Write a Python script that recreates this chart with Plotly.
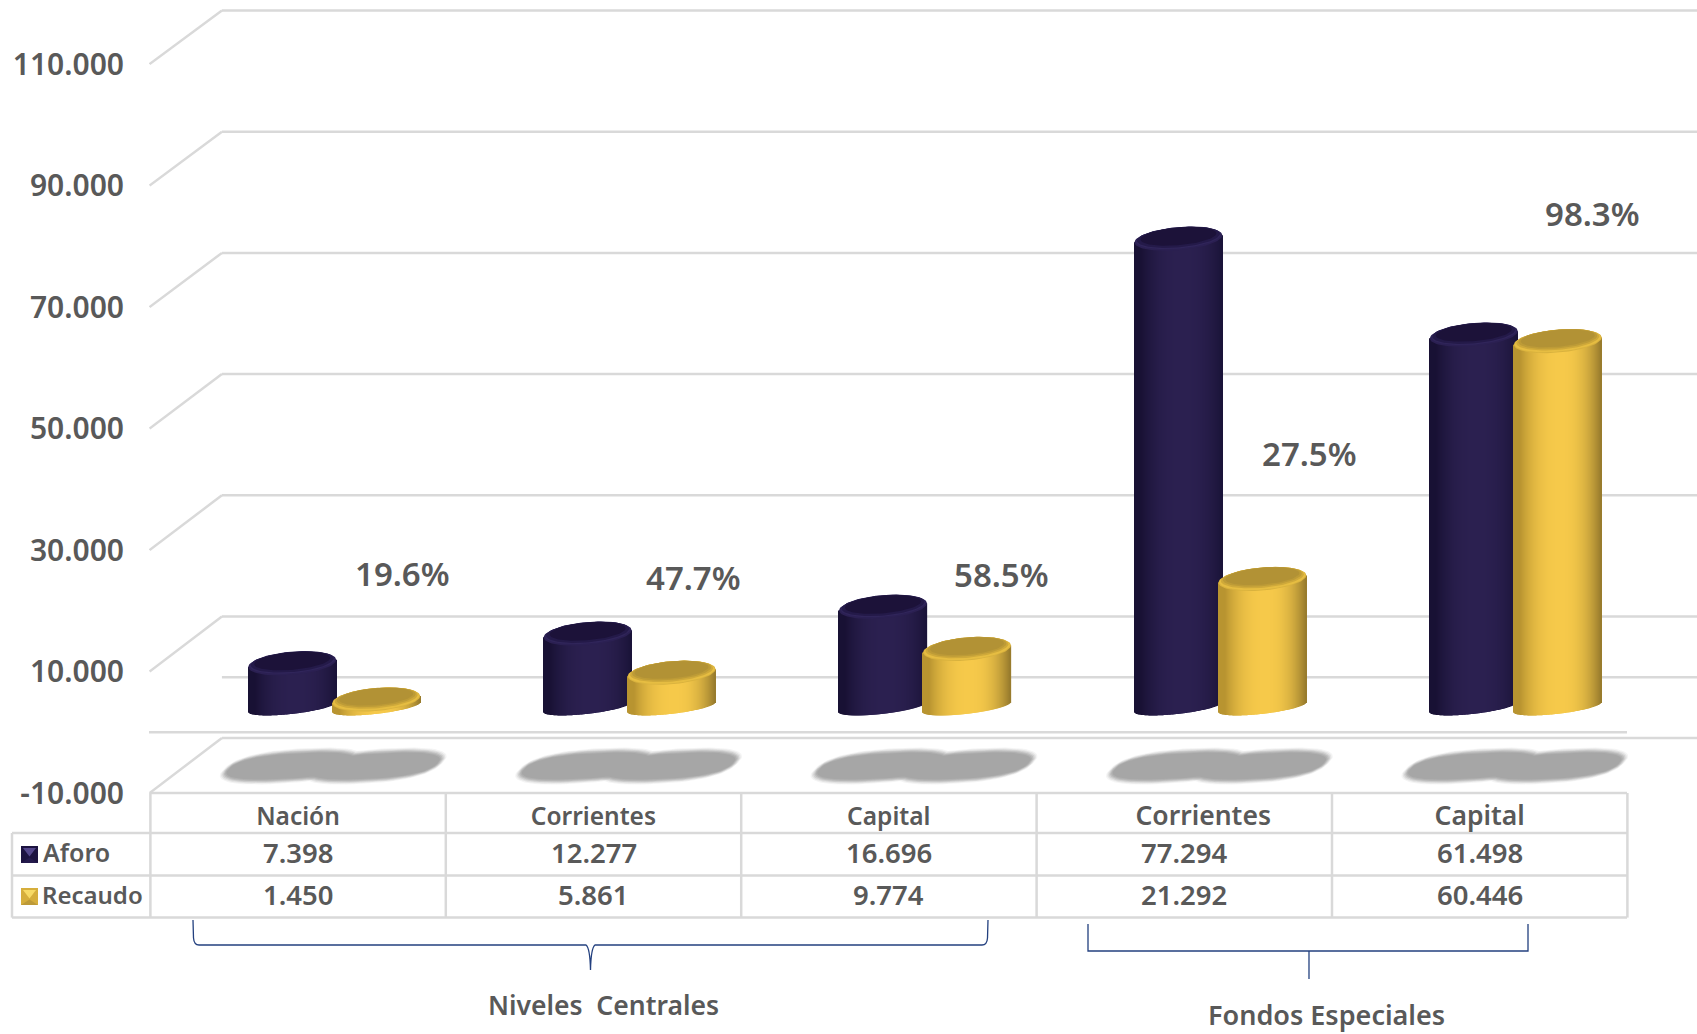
import math
import plotly.graph_objects as go

categories = ["Nación", "Corrientes", "Capital", "Corrientes", "Capital"]
aforo = [7398, 12277, 16696, 77294, 61498]
recaudo = [1450, 5861, 9774, 21292, 60446]
percent = ["19.6%", "47.7%", "58.5%", "27.5%", "98.3%"]
y_ticks = [-10000, 10000, 30000, 50000, 70000, 90000, 110000]
y_labels = ["-10.000", "10.000", "30.000", "50.000", "70.000", "90.000", "110.000"]
groups = ["Niveles  Centrales", "Fondos Especiales"]

W, H = 1697, 1034
PL, PB = 149, 793                # plot area left and bottom, px
CELL = 295.4                     # px per category
X0 = 298.0                       # px of category 0 centre
PPV = 60.75 / 10000              # px per value unit
DEPTH_Y = 55 / PPV               # back wall shift in value units
DEPTH_X = 73 / CELL
GRID = "#d9d9d9"
TXT = "#595959"
FONT = "Noto Sans"


def px2x(p):
    return (p - X0) / CELL


def px2paper_x(p):
    return (p - PL) / (W - PL)


def px2paper_y(p):
    return (PB - p) / PB


x_range = [px2x(PL), px2x(W)]
y_range = [-10000, -10000 + PB / PPV]
LEFT_U = px2x(150.4)
RIGHT_U = px2x(1627)

BAR_A = 44 / CELL
PLANE = (732.7 - 707.3) / PPV    # the bars stand between the front and back of the floor
SHIFT = 36.2 / CELL
SEP = 42 / CELL
TOP_DROP = 1.5 / PPV
BASE_SHEAR = 5 / 44
BASE_B = 7.0
TOP_SHEAR = 3.6 / 44
N_STRIPS = 88


def lerp(c1, c2, t):
    return tuple(c1[i] + (c2[i] - c1[i]) * t for i in range(3))


def rgb(c):
    return "rgb(%d,%d,%d)" % tuple(round(v) for v in c)


def shade(t, left, mid, right):
    edge = left if t < 0.08 else right
    f = min(1.0, abs(t - 0.08) / 0.92)
    return rgb(lerp(mid, edge, f ** 2.4))


NAVY = dict(left=(24, 17, 52), mid=(43, 32, 80), right=(26, 19, 56))
GOLD = dict(left=(184, 148, 48), mid=(246, 201, 74), right=(150, 122, 44))


def strips(values, sign, pal):
    xs, ys, bases, cols = [], [], [], []
    for i, v in enumerate(values):
        cx = i + SHIFT + sign * SEP
        for k in range(N_STRIPS):
            t = -1 + (2 * k + 1) / N_STRIPS
            low = BASE_SHEAR * 44 * t - BASE_B * math.sqrt(max(0, 1 - t * t))
            xs.append(cx + t * BAR_A)
            bases.append(PLANE + low / PPV)
            ys.append(v - TOP_DROP + (TOP_SHEAR * 44 * t) / PPV - low / PPV)
            cols.append(shade(t, **pal))
    return go.Bar(x=xs, y=ys, base=bases, width=2.6 * BAR_A / N_STRIPS,
                  marker=dict(color=cols, line=dict(width=0)),
                  hoverinfo="skip", showlegend=False)


def ellipse(cx, cv, a, b, s, lift=0.0, power=1.0, skew=0.0):
    n = 90
    xs, ys = [], []
    for j in range(n + 1):
        th = 2 * math.pi * j / n
        c, si = math.cos(th), math.sin(th)
        dx = a * math.copysign(abs(c) ** power, c)
        dy = b * math.copysign(abs(si) ** power, si)
        xs.append(cx + (dx + skew * dy) / CELL)
        ys.append(cv + (s * dx + dy + lift) / PPV)
    return xs, ys


def layer(values, sign, a, b, lift, color):
    X, Y = [], []
    for i, v in enumerate(values):
        xs, ys = ellipse(i + SHIFT + sign * SEP, PLANE + v - TOP_DROP, a, b, TOP_SHEAR, lift)
        X += xs + [None]
        Y += ys + [None]
    return go.Scatter(x=X, y=Y, mode="lines", fill="toself", fillcolor=color,
                      line=dict(width=0), hoverinfo="skip", showlegend=False)


def shadow(grow, color):
    X, Y = [], []
    cv = (732.7 - 766.5) / PPV
    for i in range(len(categories)):
        for sign in (-1, 1):
            xs, ys = ellipse(i + SHIFT + sign * SEP - 1 / CELL, cv, 64 + grow, 15 + grow, 0.04,
                             power=0.8, skew=1.0)
            X += xs + [None]
            Y += ys + [None]
    return go.Scatter(x=X, y=Y, mode="lines", fill="toself", fillcolor=color,
                      line=dict(width=0), hoverinfo="skip", showlegend=False)


fig = go.Figure()
for g, col in [(3, "rgba(166,166,166,0.12)"), (2, "rgba(166,166,166,0.2)"),
               (1, "rgba(166,166,166,0.3)"), (0, "rgba(166,166,166,0.45)"),
               (-1, "rgba(166,166,166,0.6)"), (-2, "#a6a6a6")]:
    fig.add_trace(shadow(g, col))

fig.add_trace(strips(aforo, -1, NAVY))
fig.add_trace(strips(recaudo, 1, GOLD))
fig.update_layout(barmode="overlay")

fig.add_trace(layer(aforo, -1, 44, 11.5, 0, "#2b2052"))
fig.add_trace(layer(aforo, -1, 42.5, 10.6, 0.8, "#30255a"))
fig.add_trace(layer(aforo, -1, 41.5, 10.2, 1.6, "#241a49"))
fig.add_trace(layer(aforo, -1, 38, 8.8, 2.4, "#1c1239"))
fig.add_trace(layer(recaudo, 1, 44, 11.5, 0, "#d9b23e"))
fig.add_trace(layer(recaudo, 1, 43, 11, 0.4, "#e6bd42"))
fig.add_trace(layer(recaudo, 1, 41.5, 10.2, 1.4, "#cfa93a"))
fig.add_trace(layer(recaudo, 1, 39.5, 9.4, 2.2, "#bd9b37"))
fig.add_trace(layer(recaudo, 1, 37, 8.4, 2.8, "#b29235"))

shapes = []


def seg(x0, y0, x1, y1, xref="paper", yref="paper", color=GRID, width=2.5, layer_="below"):
    shapes.append(dict(type="line", x0=x0, y0=y0, x1=x1, y1=y1, xref=xref, yref=yref,
                       line=dict(color=color, width=width), layer=layer_))


def back(v):
    return v + DEPTH_Y + (v - 10000) * (-0.0025 if v > 10000 else 0.0)


# back wall lines and their diagonals
for v in y_ticks[1:]:
    seg(LEFT_U + DEPTH_X - 0.005, back(v), x_range[1], back(v), "x", "y")
    seg(x_range[0] + 0.002, v, LEFT_U + DEPTH_X - 0.005, back(v), "x", "y")
for v in (0, -10000):
    seg(LEFT_U + DEPTH_X - 0.005, back(v), x_range[1], back(v), "x", "y")
seg(x_range[0] + 0.002, -10000, LEFT_U + DEPTH_X - 0.005, back(-10000), "x", "y")
seg(x_range[0], 0, RIGHT_U, 0, "x", "y")

# table grid
T_L, T_R = 150.4, 1627
ROWS = [793, 833, 875.5, 917.6]
seg(px2paper_x(T_L), px2paper_y(ROWS[0]), px2paper_x(T_R), px2paper_y(ROWS[0]))
for yy in ROWS[1:]:
    seg(px2paper_x(12), px2paper_y(yy), px2paper_x(T_R), px2paper_y(yy))
seg(px2paper_x(12), px2paper_y(ROWS[1]), px2paper_x(12), px2paper_y(ROWS[3]))
for k in range(6):
    q = T_L + k * CELL
    seg(px2paper_x(q), px2paper_y(ROWS[0]), px2paper_x(q), px2paper_y(ROWS[3]))


def poly(pts, color):
    path = "M" + " L".join("%.5f,%.5f" % (px2paper_x(a), px2paper_y(b)) for a, b in pts) + " Z"
    shapes.append(dict(type="path", path=path, xref="paper", yref="paper",
                       fillcolor=color, line=dict(width=0), layer="above"))


def key(y0, top, side, bottom):
    x0, x1, y1 = 21, 38, y0 + 17
    cx, cy = (x0 + x1) / 2, (y0 + y1) / 2
    poly([(x0, y0), (x1, y0), (x1, y1), (x0, y1)], side)
    poly([(x0 + 2, y0 + 2), (x1 - 2, y0 + 2), (cx, cy + 2)], top)
    poly([(x0, y1), (x1, y1), (cx, cy + 3)], bottom)


key(846, "#54478c", "#1c1340", "#241a4c")
key(888, "#f7da66", "#d6ae3c", "#bd9a38")

# brackets
BR = "#23407f"


def curve(d):
    shapes.append(dict(type="path", path=d, xref="paper", yref="paper",
                       line=dict(color=BR, width=1.3), layer="above"))


def p(a, b):
    return "%.5f,%.5f" % (px2paper_x(a), px2paper_y(b))


curve("M" + p(193, 920) + " L" + p(193.5, 938) + " Q" + p(194, 945) + " " + p(199, 945)
      + " L" + p(586, 945) + " Q" + p(590, 948) + " " + p(590.5, 970)
      + " Q" + p(591, 948) + " " + p(595, 945)
      + " L" + p(982, 945) + " Q" + p(987, 945) + " " + p(987.5, 938) + " L" + p(988, 920))
curve("M" + p(1088, 924) + " L" + p(1088, 951) + " L" + p(1528, 951) + " L" + p(1528, 924))
curve("M" + p(1309, 951) + " L" + p(1309, 979))

ann = []


def text(t, xp, yp, size, weight=600, xanchor="center"):
    ann.append(dict(text=t, x=px2paper_x(xp), y=px2paper_y(yp), xref="paper", yref="paper",
                    showarrow=False, xanchor=xanchor, yanchor="middle",
                    font=dict(family=FONT, size=size, color=TXT, weight=weight)))


for k in range(5):
    c = T_L + (k + 0.5) * CELL
    text(f"{aforo[k]:,}".replace(",", "."), c, 852, 27.5)
    text(f"{recaudo[k]:,}".replace(",", "."), c, 894, 27.5)
text("Aforo", 40.5, 852, 25, xanchor="left")
text("Recaudo", 40, 894, 24, xanchor="left")
text(groups[0], 603, 1005, 26.5)
text(groups[1], 1326, 1015, 27)
for s, xp, yp in zip(percent, [402.5, 693, 1001, 1309.5, 1592], [573, 577, 574, 454, 213]):
    text(s, xp, yp, 33)

cat_ticks = [0, 1, 2, 3 + 19 / CELL, 4]
cat_text = categories[:3] + ['<span style="font-size:26.5px">%s</span>' % c for c in categories[3:]]

fig.update_layout(
    width=W, height=H, autosize=False,
    margin=dict(l=PL, r=0, t=0, b=H - PB, pad=0),
    paper_bgcolor="white", plot_bgcolor="white",
    showlegend=False, shapes=shapes, annotations=ann,
    xaxis=dict(range=x_range, tickmode="array", tickvals=cat_ticks, ticktext=cat_text,
               showgrid=False, zeroline=False, showline=False, ticks="outside", ticklen=2,
               tickcolor="rgba(0,0,0,0)", tickfont=dict(family=FONT, size=24.5, color=TXT, weight=600)),
    yaxis=dict(range=y_range, tickmode="array", tickvals=y_ticks, ticktext=y_labels,
               showgrid=False, zeroline=False, showline=False, ticks="outside", ticklen=18,
               tickcolor="rgba(0,0,0,0)", tickfont=dict(family=FONT, size=30, color=TXT, weight=600)),
)

fig.write_html("out.html", config={"displayModeBar": False},
               post_script="document.body.style.margin='0';document.body.style.overflow='hidden';")
